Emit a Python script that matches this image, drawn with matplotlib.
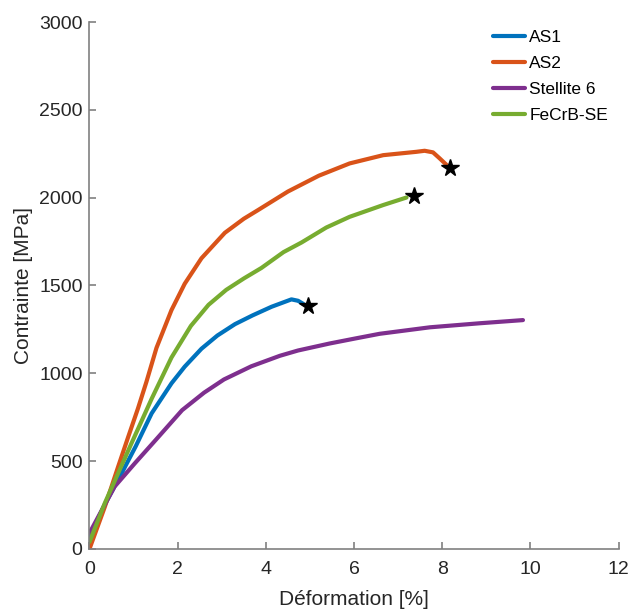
import matplotlib
matplotlib.use('Agg')
import matplotlib.pyplot as plt

# ----------------
# Data
# ----------------

as1_x = [0.0, 0.35, 0.73, 1.05, 1.41, 1.86, 2.16, 2.54, 2.90, 3.30, 3.70, 4.13, 4.58, 4.73, 4.85]
as1_y = [70, 255, 431, 585, 772, 943, 1038, 1140, 1215, 1280, 1330, 1379, 1421, 1413, 1395]

as2_x = [0.0, 0.35, 0.65, 0.88, 1.10, 1.29, 1.52, 1.86, 2.16, 2.54, 3.07, 3.50, 3.82, 4.50,
         5.20, 5.90, 6.66, 7.41, 7.60, 7.79, 7.94, 8.10]
as2_y = [0, 241, 468, 639, 800, 950, 1145, 1360, 1510, 1655, 1800, 1880, 1929, 2035,
         2125, 2195, 2242, 2261, 2267, 2258, 2224, 2186]

st6_x = [0.0, 0.30, 0.57, 1.03, 1.50, 2.10, 2.60, 3.05, 3.67, 4.32, 4.73, 5.45, 6.02,
         6.58, 7.72, 8.85, 9.83]
st6_y = [90, 230, 355, 488, 620, 790, 890, 965, 1040, 1100, 1130, 1170, 1198,
         1225, 1262, 1285, 1303]

fecrb_x = [0.0, 0.35, 0.65, 0.95, 1.41, 1.86, 2.30, 2.70, 3.10, 3.50, 3.90, 4.40, 4.81,
           5.37, 5.90, 6.66, 7.19]
fecrb_y = [40, 262, 431, 600, 855, 1090, 1270, 1390, 1475, 1540, 1600, 1690, 1745,
           1830, 1891, 1958, 2001]

# rupture points (stars)
star_x = [4.95, 8.18, 7.35]
star_y = [1383, 2167, 2009]

labels = ['AS1', 'AS2', 'Stellite 6', 'FeCrB-SE']
colors = ['#0072BD', '#D95319', '#7E2F8E', '#77AC30']

# ----------------
# Plot
# ----------------

plt.rcParams['font.family'] = ['Liberation Sans', 'DejaVu Sans']

fig = plt.figure(figsize=(6.3, 6.12), dpi=100)
ax = fig.add_axes([0.142, 0.103, 0.84, 0.861])

series = [(as1_x, as1_y), (as2_x, as2_y), (st6_x, st6_y), (fecrb_x, fecrb_y)]
for (xs, ys), lab, col in zip(series, labels, colors):
    ax.plot(xs, ys, color=col, lw=3, label=lab, solid_capstyle='round',
            solid_joinstyle='round')

ax.plot(star_x, star_y, linestyle='none', marker='*', color='black',
        markersize=13)

ax.set_xlim(0, 12)
ax.set_ylim(0, 3000)
ax.set_xticks(range(0, 13, 2))
ax.set_yticks(range(0, 3001, 500))

for side in ['top', 'right']:
    ax.spines[side].set_visible(False)
for side in ['left', 'bottom']:
    ax.spines[side].set_color('#808080')
    ax.spines[side].set_linewidth(1.2)

ax.tick_params(direction='in', length=5, width=1.2, color='#808080',
               labelsize=14, labelcolor='#262626')
ax.tick_params(axis='x', pad=9)
ax.tick_params(axis='y', pad=5)
ax.set_xlabel('Déformation [%]', fontsize=15, color='#262626', labelpad=8)
ax.set_ylabel('Contrainte [MPa]', fontsize=15, color='#262626', labelpad=4)

ax.legend(loc='upper left', bbox_to_anchor=(0.762, 0.985), frameon=False,
          fontsize=12.5, handlelength=1.85, handletextpad=0.25,
          labelspacing=0.62, borderaxespad=0, borderpad=0)

fig.savefig('out.png', dpi=100)
plt.close(fig)
